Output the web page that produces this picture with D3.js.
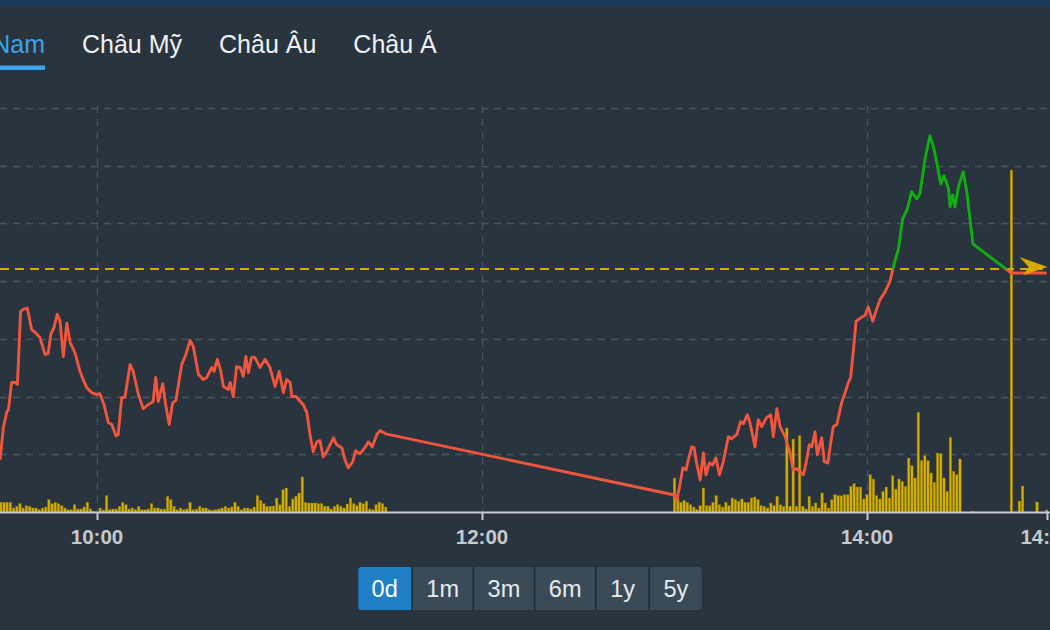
<!DOCTYPE html>
<html><head><meta charset="utf-8">
<script src="https://cdn.jsdelivr.net/npm/d3@7"></script>
<style>
html,body{margin:0;padding:0;background:#29343f;overflow:hidden;}
svg{display:block;font-family:"Liberation Sans",Arial,sans-serif;}
</style></head><body>
<svg id="chart" width="1050" height="630"></svg>
<script>
// ---------------- DATA ----------------
const tabs = ["Việt Nam", "Châu Mỹ", "Châu Âu", "Châu Á"];
const activeTab = 0;
const ranges = ["0d", "1m", "3m", "6m", "1y", "5y"];
const activeRange = 0;
const tickTimes = ["10:00", "12:00", "14:00", "14:56"];
const priceTicks = [1236, 1238, 1240, 1242, 1244, 1246, 1248];
const refPrice = 1242.42;

// minutes after 09:00
const priceMinutes = [
 29.8,30.8,31.9,32.4,33.4,34.4,35.2,36.2,37.2,38.3,39.6,41.0,42.2,43.8,44.8,45.6,46.6,47.6,48.5,49.5,
 50.6,51.6,53.1,54.7,55.7,56.8,58.3,59.9,60.9,62.2,63.5,64.6,65.9,66.6,67.7,68.7,70.3,71.3,72.9,74.4,
 76.0,77.5,78.3,79.1,80.5,81.4,82.5,83.6,84.6,86.4,87.7,89.0,90.0,91.6,93.1,94.2,95.8,96.5,97.5,98.6,
 99.4,100.9,101.5,102.5,103.5,104.6,105.6,106.4,107.2,108.2,109.2,110.8,112.4,113.9,115.5,116.8,118.1,119.1,120.2,120.7,
 122.0,124.3,125.4,126.4,127.4,128.5,129.5,130.5,131.6,133.7,134.7,136.3,137.3,138.3,139.7,140.6,142.0,143.5,144.6,145.8,
 147.2,148.2,150.0,
 240.0,240.7,241.7,242.6,243.6,244.3,245.4,246.1,246.9,248.0,249.0,249.8,250.9,251.9,252.9,254.0,255.2,256.8,257.8,259.4,
 260.6,261.5,262.7,263.5,265.1,266.1,267.2,268.7,270.0,270.8,271.9,272.9,274.5,276.0,277.0,278.1,279.1,280.2,281.2,282.0,
 282.8,283.8,284.5,285.9,286.7,287.8,288.7,289.5,290.6,292.1,293.2,294.2,294.9,295.7,296.6,297.8,299.4,300.4,301.8,303.0,
 304.1,305.6,307.2,308.2,309.8,311.1,312.6,313.9,315.5,316.5,318.1,319.6,320.7,321.7,323.0,324.0,325.4,325.9,326.7,327.4,
 328.5,330.0,331.1,333.0,345.0,356.0
];
const prices = [
 1235.81,1236.92,1237.48,1237.55,1238.49,1238.49,1238.42,1240.96,1241.03,1241.06,1240.33,1240.19,1240.05,1239.46,1239.50,1240.16,1240.40,1240.85,1240.61,1239.39,
 1240.54,1239.88,1239.53,1238.87,1238.59,1238.31,1238.14,1238.07,1238.10,1237.72,1237.10,1237.03,1236.64,1236.68,1237.97,1237.97,1239.11,1238.87,1238.07,1237.58,
 1237.72,1237.83,1238.66,1237.83,1238.45,1237.72,1237.03,1237.79,1237.86,1239.11,1239.46,1239.95,1239.74,1238.77,1238.59,1238.66,1239.01,1238.87,1239.29,1238.87,
 1238.35,1238.24,1238.49,1238.00,1239.04,1239.01,1238.70,1239.39,1238.83,1239.36,1239.36,1239.01,1239.29,1239.01,1238.35,1238.87,1238.14,1238.59,1238.49,1238.00,
 1238.00,1237.72,1237.44,1236.68,1236.09,1236.43,1236.47,1235.91,1236.09,1236.57,1236.33,1236.23,1235.81,1235.53,1235.74,1236.12,1236.02,1236.23,1236.43,1236.26,
 1236.68,1236.82,1236.71,
 1234.59,1234.42,1234.94,1235.53,1235.46,1235.81,1236.26,1236.23,1235.70,1235.11,1236.05,1235.29,1235.70,1235.63,1235.88,1235.29,1235.74,1236.61,1236.54,1236.68,
 1237.13,1237.06,1237.37,1237.10,1236.26,1237.20,1236.96,1237.27,1237.37,1236.61,1237.58,1236.96,1236.61,1236.05,1235.46,1235.50,1235.39,1235.29,1235.81,1236.33,
 1236.26,1236.78,1235.98,1236.57,1235.74,1235.70,1236.40,1236.96,1237.03,1237.79,1238.14,1238.49,1238.66,1239.53,1240.61,1240.71,1240.82,1241.10,1240.61,1241.03,
 1241.37,1241.62,1242.00,1242.49,1243.11,1244.16,1244.50,1245.10,1244.85,1245.03,1246.24,1247.04,1246.66,1246.14,1245.37,1245.65,1245.20,1244.57,1244.99,1244.57,
 1245.27,1245.79,1245.10,1243.29,1242.28,1242.28
];

// volume (million shares) per minute
const volMorningStart = 30;
const volMorning = [
 0.97,0.97,0.97,0.97,0.4,0.57,0.83,0.4,0.63,0.57,
 0.4,0.4,0.23,0.4,0.5,1.23,0.83,0.97,0.83,0.63,
 0.4,0.23,0.23,0.73,0.3,0.3,0.5,0.97,0.3,0.05,
 0,0.4,0.2,1.63,0.23,0.3,0.3,0.57,0.97,0.73,
 0.3,0.4,0.23,0.57,0.23,0.23,0.3,0.83,0.4,0.4,
 0.3,0.3,1.57,1.23,0.57,0.23,0.4,0.23,0.3,0.97,
 0.23,0.3,0.57,0.4,0.4,0.23,0.17,0.23,0.3,0.4,
 0.57,0.4,0.5,0.97,0.57,0.23,0.4,0.4,0.3,0.5,
 1.63,1.17,0.83,0.57,0.57,0.6,1.4,0.73,2.23,2.4,
 0.57,1.3,1.57,1.9,3.5,0.97,0.9,0.9,0.9,0.83,
 0.83,0.57,0.57,0.3,0.57,0.73,0.57,0.4,0.8,1.4,
 0.83,0.63,0.97,0.83,1.07,0.3,0.23,0.73,0.97,0.83,
 0.5
];
const volAfternoonStart = 240;
const volAfternoon = [
 3.4,1.4,0.97,1.17,0.97,0.73,0.5,0.23,0.63,2.4,
 0.63,0.63,0.97,1.63,0.73,0.5,0.97,0.63,1.4,1.23,
 1.07,1.3,0.97,0.97,1.4,1.5,1.23,0.63,0.57,0.4,
 0.9,0.63,1.57,0.73,0.57,8.4,0.57,7.3,0.57,7.63,
 0.57,0.3,1.57,0.57,0.9,0.4,1.9,0.9,0.4,1.23,
 1.73,1.63,1.63,1.73,1.73,2.57,2.83,2.5,2.5,1.3,
 1.73,3.73,3.3,1.63,1.3,2.07,2.5,1.4,3.63,2.3,
 3.3,3.07,2.57,5.4,4.63,3.4,9.97,5.13,5.63,5.13,
 3.9,2.97,5.9,5.83,3.4,2.07,7.47,4.07,3.73,5.3
];
const volExtraMinutes = [333, 345, 347.5, 348.5, 353, 356];
const volExtra = [0.07, 34.2, 1.1, 2.6, 1.0, 0.2];

// ---------------- HELPERS ----------------
const base = new Date(2018, 0, 1, 9, 0, 0);
const toDate = m => new Date(base.getTime() + m * 60000);
const parseHM = d3.timeParse("%H:%M");
const hmDate = s => { const t = parseHM(s); return new Date(2018, 0, 1, t.getHours(), t.getMinutes()); };

const W = 1050, H = 630;
const svg = d3.select("#chart");

// background
svg.append("rect").attr("width", W).attr("height", H).attr("fill", "#29343f");
svg.append("rect").attr("width", W).attr("height", 5.5).attr("fill", "#173a5c");

// scales
const x = d3.scaleTime()
  .domain([hmDate("10:00"), hmDate("14:00")])
  .range([97, 867]);
const y = d3.scaleLinear().domain([1234, 1248]).range([512, 108]);
const yv = d3.scaleLinear().domain([0, 40]).range([512, 112]);

const plotTop = 108, plotBottom = 512;

// ---------------- TABS ----------------
const tabG = svg.append("g");
let cursor = null;
tabs.forEach((t, i) => {
  const txt = tabG.append("text")
    .attr("y", 52.5)
    .attr("font-size", 25)
    .attr("fill", i === activeTab ? "#3ea2ea" : "#f0f2f4")
    .text(t);
  const w = txt.node().getComputedTextLength();
  if (i === 0) {
    const endX = 45;
    txt.attr("x", endX - w);
    tabG.append("rect").attr("x", endX - w).attr("y", 65.5).attr("width", w).attr("height", 4.5)
      .attr("fill", "#3ea2ea");
    cursor = endX + 37;
  } else {
    txt.attr("x", cursor);
    cursor += w + 37;
  }
});

// ---------------- GRID ----------------
const grid = svg.append("g");
grid.selectAll("line.h").data(priceTicks).join("line")
  .attr("x1", 0).attr("x2", W)
  .attr("y1", d => Math.round(y(d)) + 0.5).attr("y2", d => Math.round(y(d)) + 0.5)
  .attr("stroke", "#4b5560").attr("stroke-width", 1.3).attr("stroke-dasharray", "7,6");
grid.selectAll("line.v").data(tickTimes.slice(0, 3)).join("line")
  .attr("x1", d => Math.round(x(hmDate(d))) + 0.5).attr("x2", d => Math.round(x(hmDate(d))) + 0.5)
  .attr("y1", plotTop - 2).attr("y2", plotBottom)
  .attr("stroke", "#4b5560").attr("stroke-width", 1.3).attr("stroke-dasharray", "7,6");

// ---------------- VOLUME ----------------
const volData = [];
volMorning.forEach((v, i) => volData.push({ t: toDate(volMorningStart + i), v }));
volAfternoon.forEach((v, i) => volData.push({ t: toDate(volAfternoonStart + i), v }));
volExtraMinutes.forEach((m, i) => volData.push({ t: toDate(m), v: volExtra[i] }));
const bw = 2.5;
svg.append("g").selectAll("rect").data(volData.filter(d => d.v > 0)).join("rect")
  .attr("x", d => x(d.t) - bw / 2)
  .attr("y", d => yv(d.v))
  .attr("width", bw)
  .attr("height", d => yv(0) - yv(d.v))
  .attr("fill", "#d2ae02")
  .attr("stroke", "#8d7507")
  .attr("stroke-width", 0.4);

// ---------------- REFERENCE LINE ----------------
const refY = y(refPrice);
const lastT = toDate(priceMinutes[priceMinutes.length - 1]);
svg.append("line")
  .attr("x1", 0).attr("x2", x(lastT) - 4)
  .attr("y1", refY).attr("y2", refY)
  .attr("stroke", "#d6ab00").attr("stroke-width", 2.2).attr("stroke-dasharray", "9,6");

// ---------------- PRICE LINE ----------------
const pts = priceMinutes.map((m, i) => ({ t: toDate(m), p: prices[i] }));
const line = d3.line().x(d => x(d.t)).y(d => y(d.p));
const defs = svg.append("defs");
defs.append("clipPath").attr("id", "above").append("rect")
  .attr("x", 0).attr("y", 0).attr("width", W).attr("height", refY);
defs.append("clipPath").attr("id", "below").append("rect")
  .attr("x", 0).attr("y", refY).attr("width", W).attr("height", H - refY);
svg.append("path").datum(pts).attr("d", line)
  .attr("fill", "none").attr("stroke", "#f0553d").attr("stroke-width", 2.9)
  .attr("stroke-linejoin", "round").attr("clip-path", "url(#below)");
svg.append("path").datum(pts).attr("d", line)
  .attr("fill", "none").attr("stroke", "#12ad12").attr("stroke-width", 2.9)
  .attr("stroke-linejoin", "round").attr("clip-path", "url(#above)");

// arrow marker at end of reference line
const ax = x(lastT), ay = refY - 2;
svg.append("path")
  .attr("d", `M${ax - 27},${ay - 10} L${ax + 1},${ay} L${ax - 23},${ay + 8} L${ax - 18},${ay} Z`)
  .attr("fill", "#d9a800");

// ---------------- X AXIS ----------------
const xAxisG = svg.append("g");
xAxisG.append("line").attr("x1", 0).attr("x2", W).attr("y1", 512.5).attr("y2", 512.5)
  .attr("stroke", "#c7cbcf").attr("stroke-width", 2);
const ticks = tickTimes.map(hmDate);
xAxisG.selectAll("line.tk").data(ticks).join("line")
  .attr("x1", d => Math.round(x(d)) + 0.5).attr("x2", d => Math.round(x(d)) + 0.5)
  .attr("y1", 512).attr("y2", 520)
  .attr("stroke", "#c7cbcf").attr("stroke-width", 2);
const fmt = d3.timeFormat("%H:%M");
xAxisG.selectAll("text").data(ticks).join("text")
  .attr("x", d => x(d)).attr("y", 543.5)
  .attr("text-anchor", "middle")
  .attr("font-size", 20.5).attr("font-weight", "bold")
  .attr("fill", "#c6c9cc")
  .text(d => fmt(d));

// ---------------- RANGE BUTTONS ----------------
const btnG = svg.append("g");
const pad = 13.5, gap = 1.6, bh = 43.5, by = 566.7, centerX = 530;
const measures = ranges.map(r => {
  const t = btnG.append("text").attr("font-size", 23.5).text(r);
  const w = t.node().getComputedTextLength();
  t.remove();
  return w + 2 * pad;
});
const total = d3.sum(measures) + gap * (ranges.length - 1);
let bx = centerX - total / 2;
btnG.append("rect").attr("x", bx).attr("y", by).attr("width", total).attr("height", bh)
  .attr("rx", 4).attr("fill", "#222c36");
defs.append("clipPath").attr("id", "btnclip").append("rect")
  .attr("x", bx).attr("y", by).attr("width", total).attr("height", bh).attr("rx", 4);
ranges.forEach((r, i) => {
  const w = measures[i];
  btnG.append("rect").attr("x", bx).attr("y", by).attr("width", w).attr("height", bh)
    .attr("fill", i === activeRange ? "#1f7fc4" : "#3b4a59")
    .attr("clip-path", "url(#btnclip)");
  btnG.append("text").attr("x", bx + w / 2).attr("y", by + bh / 2 + 8.3)
    .attr("text-anchor", "middle").attr("font-size", 23.5)
    .attr("fill", i === activeRange ? "#ffffff" : "#e8eaec")
    .text(r);
  bx += w + gap;
});
</script>
</body></html>
